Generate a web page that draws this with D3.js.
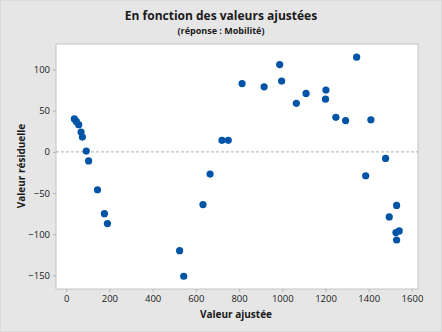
<!DOCTYPE html>
<html>
<head>
<meta charset="utf-8">
<script src="https://d3js.org/d3.v7.min.js"></script>
<style>
body { margin: 0; background: #fff; }
text { font-family: "Open Sans", "Noto Sans", sans-serif; fill: #1a1a1a; }
.tick text { font-size: 9.5px; }
.tick line, .domain { stroke: #b4b4b4; }
</style>
</head>
<body>
<svg width="442" height="332"></svg>
<script>
// fitted values and residuals
const fitted = [38, 47, 58, 69, 75, 93, 104, 145, 177, 191, 525, 544, 633, 666, 721, 750,
  814, 916, 988, 997, 1065, 1110, 1200, 1202, 1248, 1293, 1344, 1386, 1410, 1478, 1495, 1526, 1529, 1541, 1529];
const residuals = [40, 37, 33, 24, 18, 1, -11, -46, -75, -87, -120, -151, -64, -27, 14, 14,
  83, 79, 106, 86, 59, 71, 64, 75, 42, 38, 115, -29, 39, -8, -79, -98, -65, -96, -107];
const xTicks = [0, 200, 400, 600, 800, 1000, 1200, 1400, 1600];
const yTicks = [-150, -100, -50, 0, 50, 100];

const svg = d3.select("svg");
svg.append("rect").attr("width", 442).attr("height", 332).attr("fill", "#e6e6e6")
  .attr("stroke", "#cfcfcf");

const pLeft = 56, pRight = 418, pTop = 44, pBottom = 289;
const x = d3.scaleLinear().domain([-47, 1628]).range([pLeft, pRight]);
const y = d3.scaleLinear().domain([-166.5, 131]).range([pBottom, pTop]);

svg.append("rect").attr("x", pLeft).attr("y", pTop)
  .attr("width", pRight - pLeft).attr("height", pBottom - pTop)
  .attr("fill", "#fff").attr("stroke", "#c4c4c4");

svg.append("g").attr("transform", `translate(0,${pBottom})`)
  .call(d3.axisBottom(x).tickValues(xTicks).tickFormat(d3.format("d")).tickSize(3).tickPadding(3))
  .call(g => g.select(".domain").remove());
svg.append("g").attr("transform", `translate(${pLeft},0)`)
  .call(d3.axisLeft(y).tickValues(yTicks).tickFormat(d3.format("d")).tickSize(3).tickPadding(3))
  .call(g => g.select(".domain").remove());

svg.append("line").attr("x1", pLeft).attr("x2", pRight)
  .attr("y1", y(0)).attr("y2", y(0))
  .attr("stroke", "#b0b0b0").attr("stroke-dasharray", "3,2");

svg.append("g").selectAll("circle")
  .data(fitted)
  .enter()
  .append("circle")
    .attr("cx", (d) => x(d))
    .attr("cy", (d, i) => y(residuals[i]))
    .attr("r", 3.6)
    .attr("fill", "#0054a6");

svg.append("text").attr("x", 221).attr("y", 20).attr("text-anchor", "middle")
  .style("font-size", "12px").style("font-weight", "bold")
  .text("En fonction des valeurs ajustées");
svg.append("text").attr("x", 221).attr("y", 34).attr("text-anchor", "middle")
  .style("font-size", "9px").style("font-weight", "bold")
  .text("(réponse : Mobilité)");
svg.append("text").attr("x", 236).attr("y", 318).attr("text-anchor", "middle")
  .style("font-size", "10px").style("font-weight", "bold")
  .text("Valeur ajustée");
svg.append("text").attr("transform", "translate(25,166) rotate(-90)")
  .attr("text-anchor", "middle")
  .style("font-size", "10px").style("font-weight", "bold")
  .text("Valeur résiduelle");
</script>
</body>
</html>
